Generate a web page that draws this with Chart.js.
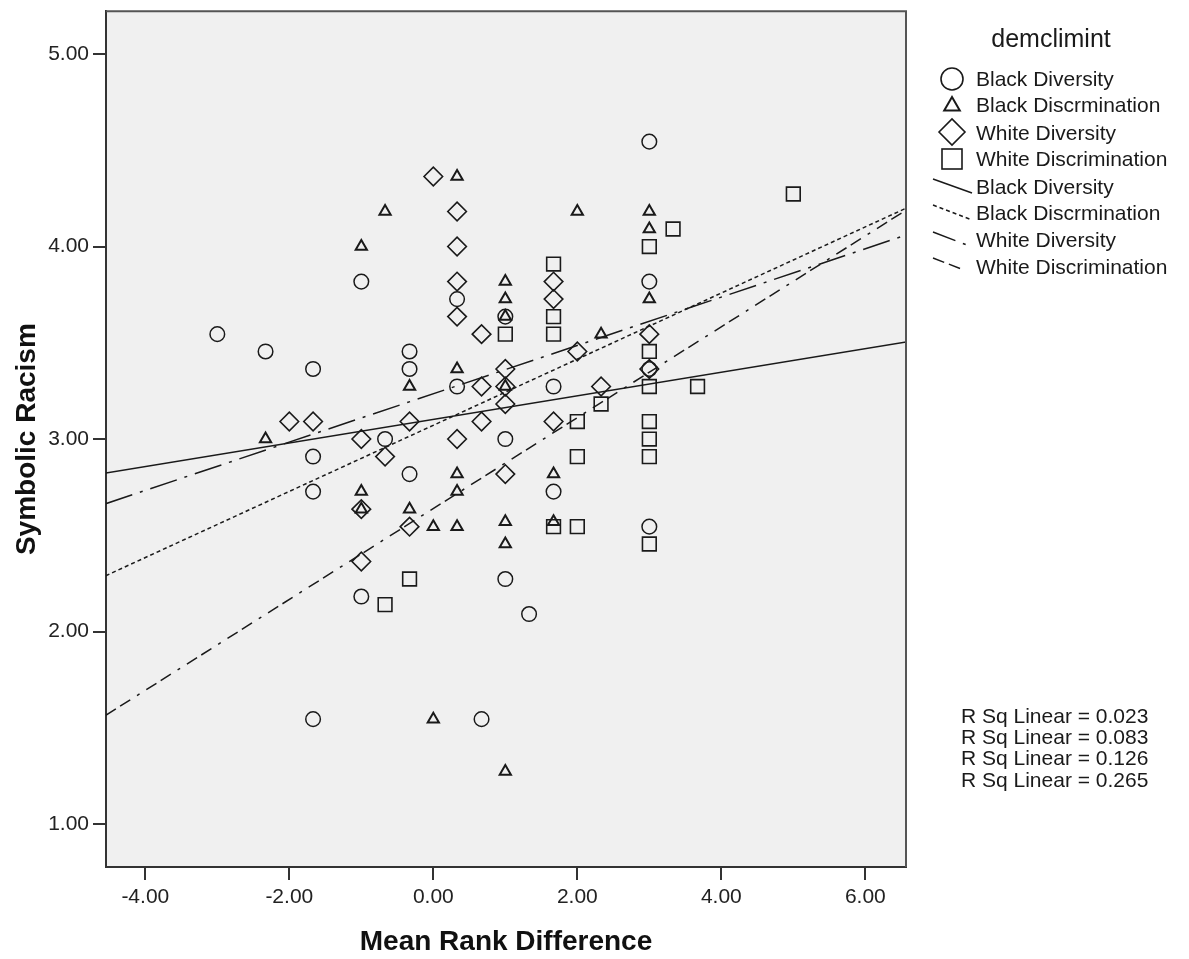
<!DOCTYPE html>
<html>
<head>
<meta charset="utf-8">
<title>Symbolic Racism by Mean Rank Difference</title>
<script src="https://cdn.jsdelivr.net/npm/chart.js@4.4.1/dist/chart.umd.min.js"></script>
<style>
    html, body { margin: 0; padding: 0; background: #ffffff; }
    canvas { display: block; }
</style>
</head>
<body>
<canvas id="scatter" width="1189" height="959"></canvas>
<script>
// Values (x = mean rank difference, y = symbolic racism)
const blackDiversityX = [-3, -2.33, -1.67, -1.67, -1.67, -1.67, -1, -1, -0.67, -0.33, -0.33, -0.33,
    0.33, 0.33, 0.67, 1, 1, 1, 1.33, 1.67, 1.67, 3, 3, 3, 3];
const blackDiversityY = [3.545, 3.455, 3.364, 2.909, 2.727, 1.545, 3.818, 2.182, 3.0, 3.455, 3.364, 2.818,
    3.727, 3.273, 1.545, 3.636, 3.0, 2.273, 2.091, 3.273, 2.727, 4.545, 3.818, 3.364, 2.545];

const blackDiscrimX = [-2.33, -1, -1, -1, -0.67, -0.33, -0.33, 0, 0, 0.33, 0.33, 0.33, 0.33, 0.33,
    1, 1, 1, 1, 1, 1, 1, 1.67, 1.67, 2, 2.33, 3, 3, 3];
const blackDiscrimY = [3.0, 4.0, 2.727, 2.636, 4.182, 3.273, 2.636, 2.545, 1.545, 4.364, 3.364, 2.818, 2.727, 2.545,
    3.818, 3.727, 3.636, 3.273, 2.571, 2.455, 1.273, 2.818, 2.571, 4.182, 3.545, 4.182, 4.091, 3.727];

const whiteDiversityX = [-2, -1.67, -1, -1, -1, -0.67, -0.33, -0.33, 0, 0.33, 0.33, 0.33, 0.33, 0.33,
    0.67, 0.67, 0.67, 1, 1, 1, 1, 1.67, 1.67, 1.67, 2, 2.33, 3, 3];
const whiteDiversityY = [3.091, 3.091, 3.0, 2.636, 2.364, 2.909, 3.091, 2.545, 4.364, 4.182, 4.0, 3.818, 3.636, 3.0,
    3.545, 3.273, 3.091, 3.364, 3.273, 3.182, 2.818, 3.818, 3.727, 3.091, 3.455, 3.273, 3.545, 3.364];

const whiteDiscrimX = [-0.67, -0.33, 1, 1.67, 1.67, 1.67, 1.67, 2, 2, 2, 2.33,
    3, 3, 3, 3, 3, 3, 3, 3.33, 3.67, 5];
const whiteDiscrimY = [2.14, 2.273, 3.545, 3.909, 3.636, 3.545, 2.545, 3.091, 2.909, 2.545, 3.182,
    4.0, 3.455, 3.273, 3.091, 3.0, 2.909, 2.455, 4.091, 3.273, 4.273];

// Fit lines, read at the left and right edge of the plot
const fitX = [-4.55, 6.57];
const blackDiversityFit = [2.824, 3.505];
const blackDiscrimFit = [2.29, 4.20];
const whiteDiversityFit = [2.664, 4.06];
const whiteDiscrimFit = [1.565, 4.19];

const groupNames = ['Black Diversity', 'Black Discrmination', 'White Diversity', 'White Discrimination'];
const rSquared = ['0.023', '0.083', '0.126', '0.265'];
const xTicks = [-4, -2, 0, 2, 4, 6];
const yTicks = [1, 2, 3, 4, 5];

const ink = '#1a1a1a';
const fontFamily = '"Liberation Sans", Arial, sans-serif';
Chart.defaults.font.family = fontFamily;

const toPoints = (xs, ys) => xs.map((x, i) => ({ x: x, y: ys[i] }));

function scatterSet(name, xs, ys, style, radius, width) {
    return {
        type: 'scatter',
        label: name,
        data: toPoints(xs, ys),
        pointStyle: style,
        pointRadius: radius,
        pointHoverRadius: radius,
        borderWidth: width,
        borderColor: ink,
        backgroundColor: 'rgba(0,0,0,0)'
    };
}

function fitSet(name, ys, dash) {
    return {
        type: 'line',
        label: name,
        data: toPoints(fitX, ys),
        borderColor: ink,
        borderWidth: 1.5,
        borderDash: dash,
        pointRadius: 0,
        fill: false
    };
}

// Grey plot background plus the top and right frame
const plotFrame = {
    id: 'plotFrame',
    beforeDraw(chart) {
        const { ctx, chartArea: a } = chart;
        ctx.save();
        ctx.fillStyle = '#f0f0f0';
        ctx.fillRect(a.left, a.top, a.right - a.left, a.bottom - a.top);
        ctx.restore();
    },
    afterDatasetsDraw(chart) {
        const { ctx, chartArea: a } = chart;
        ctx.save();
        ctx.strokeStyle = '#555';
        ctx.lineWidth = 2;
        ctx.beginPath();
        ctx.moveTo(a.left, a.top);
        ctx.lineTo(a.right, a.top);
        ctx.lineTo(a.right, a.bottom);
        ctx.stroke();
        ctx.restore();
    }
};

// SPSS style legend and the R squared notes on the right
const sideNotes = {
    id: 'sideNotes',
    afterDraw(chart) {
        const ctx = chart.ctx;
        ctx.save();
        ctx.fillStyle = '#1a1a1a';
        ctx.strokeStyle = ink;
        ctx.textBaseline = 'middle';

        ctx.font = '25px ' + fontFamily;
        ctx.textAlign = 'center';
        ctx.fillText('demclimint', 1051, 40);

        ctx.font = '21px ' + fontFamily;
        ctx.textAlign = 'left';
        const markerRows = [80, 106, 134, 160];
        const lineRows = [188, 214, 241, 268];
        const sx = 952;

        // marker symbols
        ctx.lineWidth = 1.6;
        ctx.beginPath();
        ctx.arc(sx, 79, 11, 0, Math.PI * 2);
        ctx.stroke();

        const tr = 9, ty = 106;
        ctx.lineWidth = 2;
        ctx.beginPath();
        ctx.moveTo(sx, ty - tr);
        ctx.lineTo(sx + tr * 0.866, ty + tr / 2);
        ctx.lineTo(sx - tr * 0.866, ty + tr / 2);
        ctx.closePath();
        ctx.stroke();

        ctx.lineWidth = 1.6;
        ctx.beginPath();
        ctx.moveTo(sx - 13, 132);
        ctx.lineTo(sx, 119);
        ctx.lineTo(sx + 13, 132);
        ctx.lineTo(sx, 145);
        ctx.closePath();
        ctx.stroke();

        ctx.strokeRect(sx - 10, 149, 20, 20);

        // line symbols
        const dashes = [[], [4, 3], [24, 8, 3, 8], [12, 5]];
        const lineEnds = [[933, 179, 972, 193], [933, 205, 972, 220], [933, 232, 972, 247], [933, 258, 964, 270]];
        ctx.lineWidth = 1.5;
        lineEnds.forEach((p, i) => {
            ctx.setLineDash(dashes[i]);
            ctx.beginPath();
            ctx.moveTo(p[0], p[1]);
            ctx.lineTo(p[2], p[3]);
            ctx.stroke();
        });
        ctx.setLineDash([]);

        groupNames.forEach((name, i) => {
            ctx.fillText(name, 976, markerRows[i]);
            ctx.fillText(name, 976, lineRows[i]);
        });

        rSquared.forEach((r, i) => {
            ctx.fillText('R Sq Linear = ' + r, 961, 717 + i * 21.3);
        });
        ctx.restore();
    }
};

const fmt = v => Number(v).toFixed(2);

new Chart(document.getElementById('scatter'), {
    data: {
        datasets: [
            fitSet('Black Diversity', blackDiversityFit, []),
            fitSet('Black Discrmination', blackDiscrimFit, [4, 3]),
            fitSet('White Diversity', whiteDiversityFit, [28, 8, 3, 8]),
            fitSet('White Discrimination', whiteDiscrimFit, [12, 5, 12, 8, 3, 8]),
            scatterSet('Black Diversity', blackDiversityX, blackDiversityY, 'circle', 7.3, 1.5),
            scatterSet('Black Discrmination', blackDiscrimX, blackDiscrimY, 'triangle', 6.5, 2),
            scatterSet('White Diversity', whiteDiversityX, whiteDiversityY, 'rectRot', 9.3, 1.6),
            scatterSet('White Discrimination', whiteDiscrimX, whiteDiscrimY, 'rect', 9.7, 1.6)
        ]
    },
    options: {
        responsive: false,
        animation: false,
        devicePixelRatio: 1,
        layout: { padding: { top: 11, right: 283, bottom: 0, left: 0 } },
        plugins: {
            legend: { display: false },
            tooltip: { enabled: false }
        },
        scales: {
            x: {
                type: 'linear',
                min: -4.546,
                max: 6.565,
                afterFit: scale => {
                    scale.height = 92;
                    scale.paddingLeft = 0;
                    scale.paddingRight = 0;
                },
                afterBuildTicks: scale => { scale.ticks = xTicks.map(v => ({ value: v })); },
                ticks: { callback: fmt, padding: 5, color: '#222', font: { size: 21 }, maxRotation: 0, autoSkip: false },
                grid: { drawOnChartArea: false, tickLength: 13, color: '#333', lineWidth: 2 },
                border: { color: '#333', width: 2 },
                title: {
                    display: true,
                    text: 'Mean Rank Difference',
                    color: '#111',
                    font: { size: 28, weight: 'bold' },
                    padding: { top: 0, bottom: 0 }
                }
            },
            y: {
                type: 'linear',
                min: 0.777,
                max: 5.222,
                afterFit: scale => {
                    scale.width = 106;
                    scale.paddingTop = 0;
                    scale.paddingBottom = 0;
                },
                afterBuildTicks: scale => { scale.ticks = yTicks.map(v => ({ value: v })); },
                ticks: { callback: fmt, padding: 4, color: '#222', font: { size: 21 }, autoSkip: false },
                grid: { drawOnChartArea: false, tickLength: 13, color: '#333', lineWidth: 2 },
                border: { color: '#333', width: 2 },
                title: {
                    display: true,
                    text: 'Symbolic Racism',
                    color: '#111',
                    font: { size: 28, weight: 'bold' },
                    padding: { top: 10, bottom: 0 }
                }
            }
        }
    },
    plugins: [plotFrame, sideNotes]
});
</script>
</body>
</html>
